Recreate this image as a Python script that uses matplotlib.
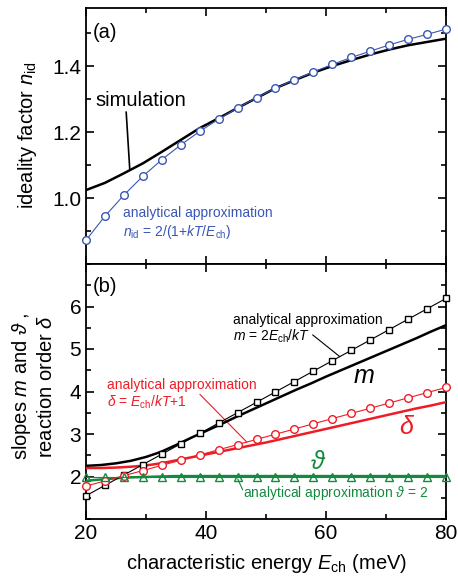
import matplotlib
matplotlib.use("Agg")
import matplotlib.pyplot as plt
from matplotlib.ticker import MultipleLocator

plt.rcParams['font.family'] = ['Liberation Sans', 'DejaVu Sans']
plt.rcParams['mathtext.fontset'] = 'custom'
plt.rcParams['mathtext.rm'] = 'Liberation Sans'
plt.rcParams['mathtext.it'] = 'Liberation Sans:italic'
plt.rcParams['mathtext.fallback'] = 'cm'

# ---------------- data ----------------
E_pts = [20.0, 23.16, 26.32, 29.47, 32.63, 35.79, 38.95, 42.11, 45.26, 48.42,
         51.58, 54.74, 57.89, 61.05, 64.21, 67.37, 70.53, 73.68, 76.84, 80.0]
nid_analytic = [0.872, 0.945, 1.009, 1.066, 1.116, 1.161, 1.202, 1.239, 1.273, 1.304,
                1.333, 1.358, 1.382, 1.405, 1.426, 1.445, 1.464, 1.481, 1.496, 1.512]
nid_sim = [1.024, 1.046, 1.075, 1.105, 1.140, 1.176, 1.212, 1.242, 1.273, 1.303,
           1.333, 1.357, 1.380, 1.400, 1.418, 1.435, 1.450, 1.463, 1.473, 1.483]

m_analytic = [1.547, 1.792, 2.036, 2.280, 2.525, 2.769, 3.013, 3.258, 3.502, 3.746,
              3.991, 4.235, 4.479, 4.724, 4.968, 5.212, 5.457, 5.701, 5.945, 6.190]
delta_analytic = [1.774, 1.896, 2.018, 2.140, 2.262, 2.384, 2.507, 2.629, 2.751, 2.873,
                  2.995, 3.117, 3.240, 3.362, 3.484, 3.606, 3.728, 3.851, 3.973, 4.095]
theta_analytic = [2.0] * 20

E_sim = [20, 22.5, 25, 27.5, 30, 32.5, 35, 37.5, 40, 42.5, 45, 47.5, 50,
         52.5, 55, 57.5, 60, 62.5, 65, 67.5, 70, 72.5, 75, 77.5, 80]
m_sim = [2.25, 2.27, 2.31, 2.37, 2.46, 2.58, 2.74, 2.91, 3.07, 3.23, 3.40, 3.56, 3.72,
         3.88, 4.04, 4.19, 4.35, 4.50, 4.65, 4.80, 4.95, 5.10, 5.25, 5.41, 5.56]
delta_sim = [2.20, 2.20, 2.21, 2.23, 2.26, 2.31, 2.38, 2.45, 2.52, 2.59, 2.66, 2.73, 2.80,
             2.88, 2.96, 3.04, 3.12, 3.20, 3.28, 3.36, 3.44, 3.52, 3.60, 3.67, 3.75]
theta_sim = [1.90, 1.93, 1.96, 1.98, 1.99, 2.00, 2.01, 2.01, 2.01, 2.01, 2.01, 2.01, 2.01,
             2.01, 2.01, 2.01, 2.01, 2.01, 2.01, 2.01, 2.01, 2.01, 2.01, 2.01, 2.01]

BLUE = '#3a56b4'
RED = '#ee1c25'
GREEN = '#138a3e'
ANN = 10

fig = plt.figure(figsize=(4.58, 5.79), dpi=100)
L, W = 86 / 458, 360 / 458
axa = fig.add_axes([L, 1 - 264 / 579, W, 256 / 579])
axb = fig.add_axes([L, 1 - 519 / 579, W, 255 / 579])

for ax in (axa, axb):
    ax.set_xlim(20, 80)
    ax.xaxis.set_major_locator(MultipleLocator(20))
    ax.xaxis.set_minor_locator(MultipleLocator(10))
    ax.tick_params(which='both', direction='in', top=True, right=True, labelsize=15, width=1.2)
    ax.tick_params(which='major', length=6)
    ax.tick_params(which='minor', length=3.5)
    for s in ax.spines.values():
        s.set_linewidth(1.3)

# ---------------- panel (a) ----------------
axa.set_ylim(0.8, 1.576)
axa.yaxis.set_minor_locator(MultipleLocator(0.1))
axa.set_yticks([1.0, 1.2, 1.4])
axa.tick_params(labelbottom=False)
axa.plot(E_pts, nid_sim, color='black', lw=1.8, zorder=3)
axa.plot(E_pts, nid_analytic, color=BLUE, lw=0.8, marker='o', ms=5.5, mfc='white',
         mec=BLUE, mew=1.0, zorder=4, clip_on=False)
axa.text(21.5, 1.297, 'simulation', fontsize=14.5, va='center', ha='left')
axa.plot([26.7, 27.3], [1.26, 1.085], color='black', lw=1.2)
axa.text(26.2, 0.955, 'analytical approximation', color=BLUE, fontsize=ANN, va='center')
axa.text(26.2, 0.898, r'$n_{\rm id}$ = 2/(1+$kT$/$E_{\rm ch}$)', color=BLUE, fontsize=ANN, va='center')
axa.text(0.02, 0.906, '(a)', transform=axa.transAxes, fontsize=14.5, va='center')

# ---------------- panel (b) ----------------
axb.set_ylim(1.0, 7.0)
axb.yaxis.set_minor_locator(MultipleLocator(0.5))
axb.set_yticks([2, 3, 4, 5, 6])

axb.plot(E_sim, m_sim, color='black', lw=1.8, zorder=3)
axb.plot(E_sim, delta_sim, color=RED, lw=1.8, zorder=3)
axb.plot(E_sim, theta_sim, color=GREEN, lw=1.8, zorder=3)
axb.plot(E_pts, m_analytic, color='black', lw=0.8, marker='s', ms=5, mfc='white',
         mec='black', mew=1.0, zorder=4, clip_on=False)
axb.plot(E_pts, delta_analytic, color=RED, lw=0.8, marker='o', ms=5.5, mfc='white',
         mec=RED, mew=1.0, zorder=4, clip_on=False)
axb.plot(E_pts, theta_analytic, color=GREEN, lw=0.8, marker='^', ms=5.5, mfc='none',
         mec=GREEN, mew=1.0, zorder=4, clip_on=False)

axb.text(44.5, 5.69, 'analytical approximation', fontsize=ANN, va='center')
axb.text(44.5, 5.29, r'$m$ = 2$E_{\rm ch}$/$kT$', fontsize=ANN, va='center')
axb.plot([57.8, 62.3], [5.33, 4.82], color='black', lw=0.8)
axb.text(66.3, 4.36, r'$m$', fontsize=18, va='center', ha='center')

axb.text(23.5, 4.16, 'analytical approximation', color=RED, fontsize=ANN, va='center')
axb.text(23.5, 3.75, r'$\delta$ = $E_{\rm ch}$/$kT$+1', color=RED, fontsize=ANN, va='center')
axb.plot([39.0, 46.8], [3.93, 2.81], color=RED, lw=0.8)
axb.text(73.5, 3.16, r'$\delta$', color=RED, fontsize=18, va='center', ha='center')

axb.text(58.7, 2.33, r'$\vartheta$', color=GREEN, fontsize=18, va='center', ha='center')
axb.text(46.2, 1.61, r'analytical approximation $\vartheta$ = 2', color=GREEN, fontsize=ANN, va='center')
axb.plot([45.3, 46.1], [1.94, 1.69], color=GREEN, lw=0.8)
axb.text(0.02, 0.91, '(b)', transform=axb.transAxes, fontsize=14.5, va='center')

# ---------------- axis labels ----------------
fig.text(0.059, 0.767, r'ideality factor $n_{\rm id}$', rotation=90, fontsize=14.5,
         ha='center', va='center')
fig.text(0.048, 0.3325, r'slopes $m$ and $\vartheta$ ,', rotation=90,
         fontsize=14.5, ha='center', va='center')
fig.text(0.102, 0.3325, r'reaction order $\delta$', rotation=90,
         fontsize=14.5, ha='center', va='center')
fig.text(0.581, 0.0276, r'characteristic energy $E_{\rm ch}$ (meV)', fontsize=14.5,
         ha='center', va='center')

fig.savefig('out.png', dpi=100)
